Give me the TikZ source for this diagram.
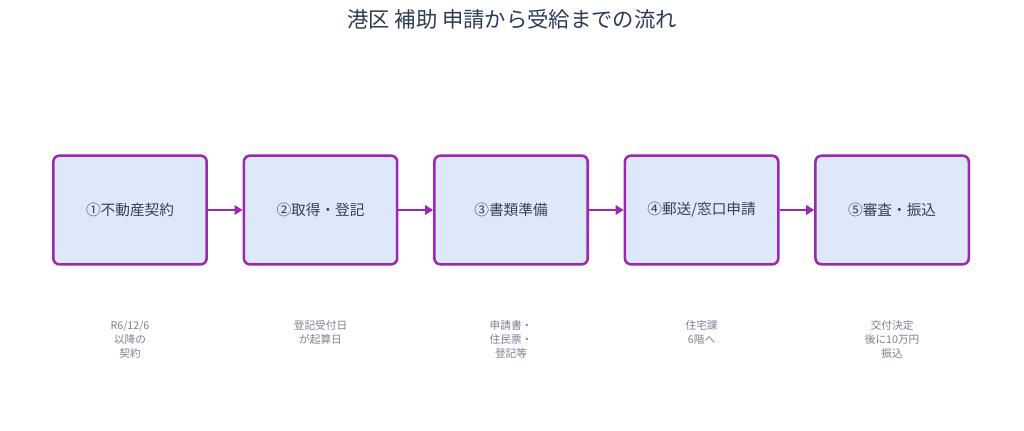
\documentclass[tikz,border=0pt]{standalone}
\usepackage{fontspec}
\setmainfont{Noto Sans CJK JP}
\usetikzlibrary{positioning, arrows.meta}
\definecolor{stepfill}{HTML}{DDE8FA}
\definecolor{stepline}{HTML}{9C27B0}
\definecolor{steptext}{HTML}{3A4250}
\definecolor{notetext}{HTML}{7A8090}
\definecolor{titletext}{HTML}{2B3A55}
\begin{document}
\begin{tikzpicture}[x=0.75pt, y=-0.75pt,
    stepbox/.style={draw=stepline, line width=1.9pt, fill=stepfill, rounded corners=4.5pt,
        minimum width=115pt, minimum height=81.5pt, text=steptext, font=\fontsize{11}{13}\selectfont},
    note/.style={text=notetext, align=center, font=\fontsize{8}{10.5}\selectfont},
    flow/.style={draw=stepline, line width=1.9pt, -{Triangle[length=6pt, width=7pt]}}]
        \useasboundingbox (0,0) rectangle (1024,431);
        \node[text=titletext, font=\fontsize{16}{19}\selectfont] (title) at (512,19) {港区 補助 申請から受給までの流れ};
        \node[stepbox] (s1) at (130,210) {①不動産契約};
        \node[stepbox, right=26pt of s1] (s2) {②取得・登記};
        \node[stepbox, right=26pt of s2] (s3) {③書類準備};
        \node[stepbox, right=26pt of s3] (s4) {④郵送/窓口申請};
        \node[stepbox, right=26pt of s4] (s5) {⑤審査・振込};
        \draw[flow] (s1) -- (s2);
        \draw[flow] (s2) -- (s3);
        \draw[flow] (s3) -- (s4);
        \draw[flow] (s4) -- (s5);
        \node[note, below=38pt of s1] (n1) {R6/12/6\\以降の\\契約};
        \node[note, below=38pt of s2] (n2) {登記受付日\\が起算日};
        \node[note, below=38pt of s3] (n3) {申請書・\\住民票・\\登記等};
        \node[note, below=38pt of s4] (n4) {住宅課\\6階へ};
        \node[note, below=38pt of s5] (n5) {交付決定\\後に10万円\\振込};
    \end{tikzpicture}
\end{document}
